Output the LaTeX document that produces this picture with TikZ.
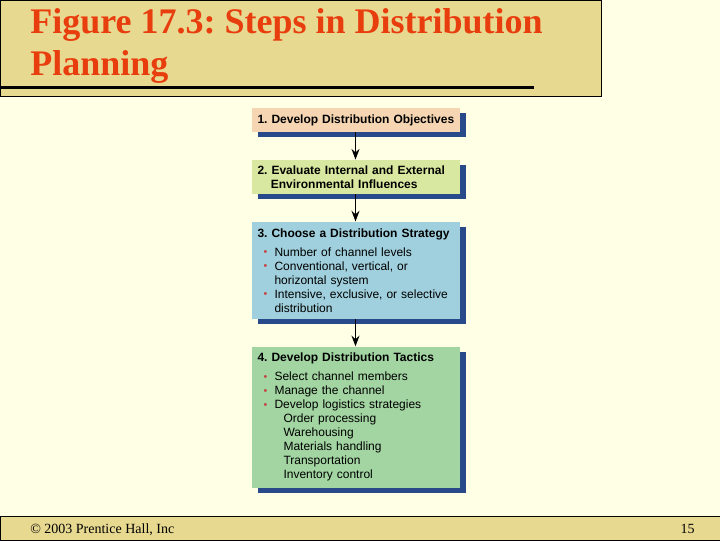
\documentclass[tikz,border=0pt]{standalone}
\usepackage{fontspec}
\setmainfont{Liberation Serif}
\newfontfamily\arialfont{Liberation Sans}
\usetikzlibrary{positioning, arrows.meta, shadows}

\definecolor{slidebg}{RGB}{255,255,230}
\definecolor{bartan}{RGB}{232,217,145}
\definecolor{titlered}{RGB}{232,62,14}
\definecolor{shadowblue}{RGB}{40,74,138}
\definecolor{dotred}{RGB}{196,70,70}
\definecolor{objpeach}{RGB}{246,214,178}
\definecolor{inflgreen}{RGB}{216,232,160}
\definecolor{stratblue}{RGB}{160,208,221}
\definecolor{tactgreen}{RGB}{162,213,162}

\newcommand{\stagefont}{\arialfont\fontsize{9}{10.5}\selectfont\frenchspacing\hyphenpenalty=10000\relax}
\newcommand{\dotitem}{\makebox[12.75pt][l]{\hspace{4.5pt}\textcolor{dotred}{\raisebox{0.4pt}{\fontsize{8}{8}\selectfont\textbullet}}}}
\newcommand{\contline}{\hspace*{12.75pt}}
\newcommand{\subline}{\hspace*{19.5pt}}

\tikzstyle{stage} = [rectangle, text width=147pt, inner xsep=4.5pt, inner ysep=3pt, align=left, font=\stagefont, general shadow={fill=shadowblue, shadow xshift=4.5pt, shadow yshift=-3.75pt}]
\tikzstyle{arrow} = [line width=1.1pt, -{Stealth[length=8pt, width=6pt]}]
\tikzstyle{bar} = [draw=black, line width=0.75pt, fill=bartan]

\begin{document}
\begin{tikzpicture}[x=0.75pt, y=-0.75pt, node distance=20.5pt]
    % slide background
    \fill [slidebg] (0,0) rectangle (720,540);
    \useasboundingbox (0,0) rectangle (720,540);

    % title bar
    \draw [bar] (0.5,0.5) rectangle (601,96);
    \draw [line width=2.25pt] (0,87.5) -- (534,87.5);
    \node (title) [anchor=base west, inner sep=0pt, align=left, text=titlered, font=\bfseries\fontsize{27}{31.5}\selectfont\frenchspacing] at (30,75) {Figure 17.3: Steps in Distribution\\Planning};

    % footer bar
    \draw [bar] (0.5,516.5) rectangle (720,540);
    \node (copyright) [anchor=base west, inner sep=0pt, font=\fontsize{10.5}{12}\selectfont] at (30,533) {\textcopyright{} 2003 Prentice Hall, Inc};
    \node (pagenum) [anchor=base east, inner sep=0pt, font=\fontsize{10.5}{12}\selectfont] at (695,533) {15};

    % the four steps
    \node (objectives) [stage, fill=objpeach, minimum height=18pt] at (355.5,120) {\mbox{\textbf{1. Develop Distribution Objectives}}};
    \node (influences) [stage, fill=inflgreen, minimum height=25.5pt, below=of objectives] {\textbf{2. Evaluate Internal and External}\\\hspace*{10pt}\textbf{Environmental Influences}};
    \node (strategy) [stage, fill=stratblue, minimum height=72.75pt, below=of influences] {\textbf{3. Choose a Distribution Strategy}\\[3.75pt]
        \dotitem Number of channel levels\\
        \dotitem Conventional, vertical, or\\
        \contline horizontal system\\
        \dotitem Intensive, exclusive, or selective\\
        \contline distribution};
    \node (tactics) [stage, fill=tactgreen, minimum height=105.75pt, below=of strategy] {\textbf{4. Develop Distribution Tactics}\\[3.75pt]
        \dotitem Select channel members\\
        \dotitem Manage the channel\\
        \dotitem Develop logistics strategies\\
        \subline Order processing\\
        \subline Warehousing\\
        \subline Materials handling\\
        \subline Transportation\\
        \subline Inventory control};

    \draw [arrow] (objectives) -- (influences);
    \draw [arrow] (influences) -- (strategy);
    \draw [arrow] (strategy) -- (tactics);

\end{tikzpicture}
\end{document}
